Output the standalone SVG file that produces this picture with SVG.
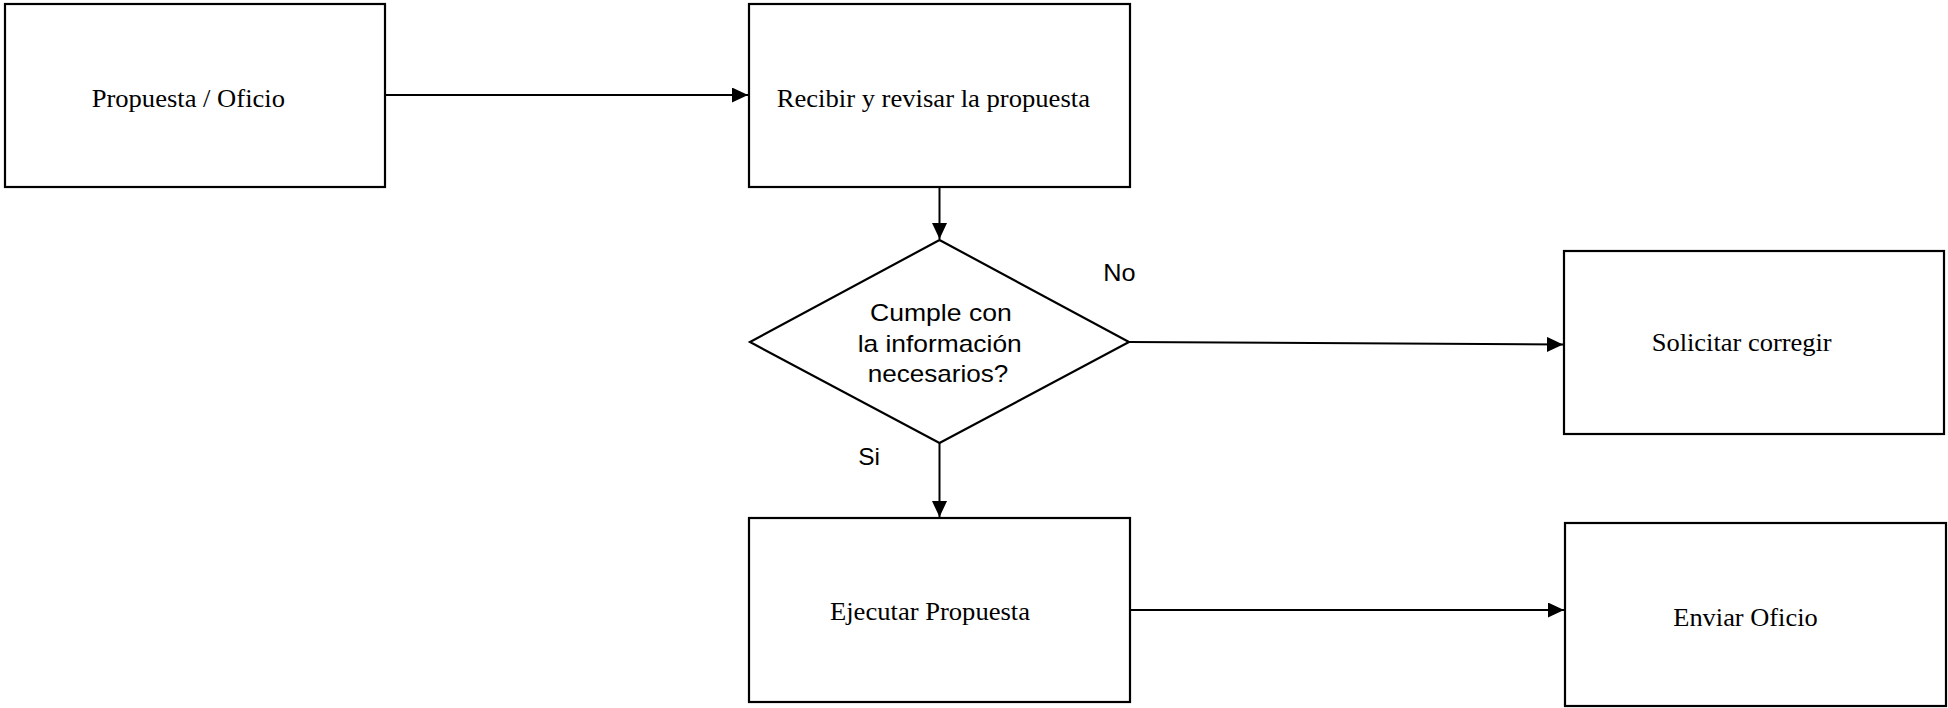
<svg xmlns="http://www.w3.org/2000/svg" width="1948" height="708" viewBox="0 0 1948 708">
  <style>
    .box { fill: #ffffff; stroke: #000000; stroke-width: 2.2; }
    .edge { fill: none; stroke: #000000; stroke-width: 2; }
    .serif { font-family: "Liberation Serif", "Times New Roman", serif; font-size: 25px; fill: #000000; }
    .sans { font-family: "Liberation Sans", Arial, sans-serif; font-size: 24px; fill: #000000; }
  </style>
  <defs>
    <marker id="arrow" markerUnits="userSpaceOnUse" markerWidth="18" markerHeight="16" refX="16" refY="7.5" orient="auto">
      <path d="M0,0 L16,7.5 L0,15 Z" fill="#000000"/>
    </marker>
  </defs>
  <rect width="1948" height="708" fill="#ffffff"/>

  <!-- connectors -->
  <g id="connectors">
    <line class="edge" x1="385" y1="95" x2="748" y2="95" marker-end="url(#arrow)"/>
    <line class="edge" x1="939.5" y1="187" x2="939.5" y2="239" marker-end="url(#arrow)"/>
    <line class="edge" x1="1129" y1="342" x2="1563" y2="344.5" marker-end="url(#arrow)"/>
    <line class="edge" x1="939.5" y1="443" x2="939.5" y2="517" marker-end="url(#arrow)"/>
    <line class="edge" x1="1130" y1="610" x2="1564" y2="610" marker-end="url(#arrow)"/>
    <text class="sans" x="1103.3" y="281" textLength="32.3" lengthAdjust="spacingAndGlyphs">No</text>
    <text class="sans" x="858.3" y="465" textLength="21.7" lengthAdjust="spacingAndGlyphs">Si</text>
  </g>

  <!-- nodes -->
  <g id="propuesta-oficio">
    <rect class="box" x="5" y="4" width="380" height="183"/>
    <text class="serif" x="91.7" y="107" textLength="193.3" lengthAdjust="spacingAndGlyphs">Propuesta / Oficio</text>
  </g>

  <g id="recibir-revisar">
    <rect class="box" x="749" y="4" width="381" height="183"/>
    <text class="serif" x="776.7" y="107.3" textLength="313.3" lengthAdjust="spacingAndGlyphs">Recibir y revisar la propuesta</text>
  </g>

  <g id="cumple-decision">
    <polygon class="box" points="939.5,240 1129,342 939.5,443 750,342"/>
    <text class="sans" x="870" y="320.7" textLength="141.7" lengthAdjust="spacingAndGlyphs">Cumple con</text>
    <text class="sans" x="857.7" y="351.5" textLength="164" lengthAdjust="spacingAndGlyphs">la información</text>
    <text class="sans" x="867.7" y="381.7" textLength="140.7" lengthAdjust="spacingAndGlyphs">necesarios?</text>
  </g>

  <g id="solicitar-corregir">
    <rect class="box" x="1564" y="251" width="380" height="183"/>
    <text class="serif" x="1651.7" y="350.7" textLength="180" lengthAdjust="spacingAndGlyphs">Solicitar corregir</text>
  </g>

  <g id="ejecutar-propuesta">
    <rect class="box" x="749" y="518" width="381" height="184"/>
    <text class="serif" x="830" y="620" textLength="200" lengthAdjust="spacingAndGlyphs">Ejecutar Propuesta</text>
  </g>

  <g id="enviar-oficio">
    <rect class="box" x="1565" y="523" width="381" height="183"/>
    <text class="serif" x="1673.3" y="626" textLength="144.4" lengthAdjust="spacingAndGlyphs">Enviar Oficio</text>
  </g>
</svg>
